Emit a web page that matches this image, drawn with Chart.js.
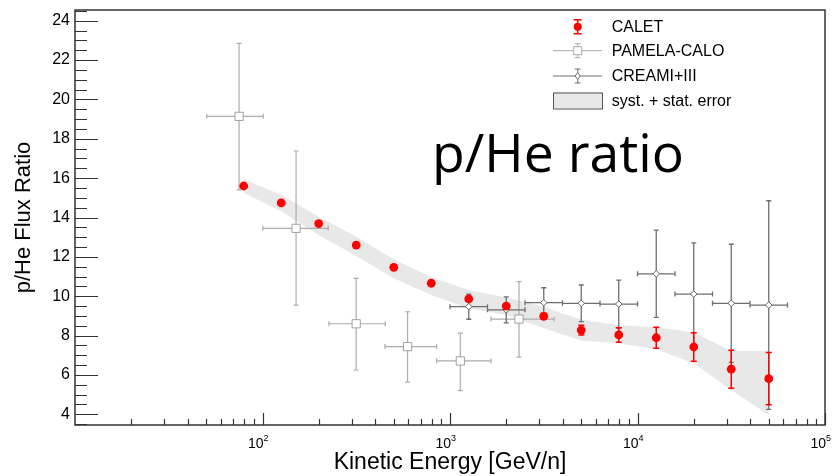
<!DOCTYPE html>
<html>
<head>
<meta charset="utf-8">
<script src="https://cdn.jsdelivr.net/npm/chart.js@4.4.1/dist/chart.umd.min.js"></script>
<style>
  html, body { margin: 0; padding: 0; background: #fff; }
  #wrap { width: 838px; height: 476px; }
</style>
</head>
<body>
<div id="wrap"><canvas id="chart" width="838" height="476"></canvas></div>
<script>
// CALET points + total (syst. + stat.) band
const caletE = [79.4, 125.9, 199.5, 316.2, 501.2, 794.3, 1259, 1995, 3162, 5012, 7943, 12589, 19953, 31623, 50119];
const caletRatio = [15.6, 14.74, 13.69, 12.6, 11.47, 10.66, 9.86, 9.5, 8.98, 8.28, 8.03, 7.89, 7.42, 6.29, 5.81];
const caletStat = [0.05, 0.05, 0.05, 0.06, 0.06, 0.07, 0.09, 0.12, 0.15, 0.25, 0.37, 0.53, 0.72, 0.97, 1.33];
const bandHigh = [15.95, 15.15, 14.04, 13.02, 11.88, 10.97, 10.32, 9.93, 9.47, 8.8, 8.52, 8.42, 8.15, 7.22, 7.22];
const bandLow = [15.25, 14.32, 13.11, 12.04, 10.91, 10.06, 9.39, 9.05, 8.37, 7.75, 7.61, 7.3, 6.59, 5.24, 3.96];

// PAMELA-CALO
const pamelaE = [75, 151, 316, 594, 1135, 2333];
const pamelaRatio = [19.14, 13.45, 8.6, 7.44, 6.71, 8.84];
const pamelaLo = [15.4, 9.55, 6.25, 5.63, 5.2, 6.9];
const pamelaHi = [22.85, 17.38, 10.91, 9.21, 8.12, 10.74];
const pamelaBinLo = [50.4, 100.3, 226, 450, 849, 1655];
const pamelaBinHi = [100.9, 224, 452, 849, 1655, 3589];

// CREAM I+III
const creamE = [1259, 1995, 3162, 5012, 7943, 12589, 19953, 31623, 50119];
const creamRatio = [9.47, 9.31, 9.67, 9.64, 9.6, 11.14, 10.11, 9.64, 9.55];
const creamErr = [0.64, 0.66, 0.76, 0.93, 1.22, 2.22, 2.6, 3.0, 5.3];
const creamBinLo = [1000, 1585, 2512, 3981, 6310, 10000, 15849, 25119, 39811];
const creamBinHi = [1585, 2512, 3981, 6310, 10000, 15849, 25119, 39811, 63096];

// axes
const yTicks = [4, 6, 8, 10, 12, 14, 16, 18, 20, 22, 24];
const xTicks = [100, 1000, 10000, 100000];
const xTickBase = '10';
const xTickExp = ['2', '3', '4', '5'];
const legendLabels = ['CALET', 'PAMELA-CALO', 'CREAMI+III', 'syst. + stat. error'];
const noteText = 'p/He ratio';

const FONT = '"Liberation Sans", Arial, Helvetica, sans-serif';
const RED = '#ff0000';
const BAND = '#e8e8e8';
const PAM = '#acacac';
const CRM = '#6e6e6e';

function pts(xs, ys) {
  return xs.map((x, i) => ({ x, y: ys[i] }));
}

function drawErrors(chart, ds) {
  const { ctx, scales: { x, y } } = chart;
  const st = ds.errStyle;
  ctx.save();
  ctx.strokeStyle = st.color;
  ctx.lineWidth = st.width;
  ctx.beginPath();
  ds.data.forEach((p, i) => {
    const px = x.getPixelForValue(p.x);
    const py = y.getPixelForValue(p.y);
    if (ds.yLow) {
      const y1 = y.getPixelForValue(ds.yLow[i]);
      const y2 = y.getPixelForValue(ds.yHigh[i]);
      ctx.moveTo(px, y1); ctx.lineTo(px, y2);
      ctx.moveTo(px - st.cap, y1); ctx.lineTo(px + st.cap, y1);
      ctx.moveTo(px - st.cap, y2); ctx.lineTo(px + st.cap, y2);
    }
    if (ds.xLow) {
      const x1 = x.getPixelForValue(ds.xLow[i]);
      const x2 = x.getPixelForValue(ds.xHigh[i]);
      ctx.moveTo(x1, py); ctx.lineTo(x2, py);
      ctx.moveTo(x1, py - st.cap); ctx.lineTo(x1, py + st.cap);
      ctx.moveTo(x2, py - st.cap); ctx.lineTo(x2, py + st.cap);
    }
  });
  ctx.stroke();
  ctx.restore();
}

function drawLegend(ctx) {
  const mx = 577.7, x1 = 553, x2 = 602, tx = 611.7;
  const rows = [26.7, 50.7, 76, 100.5];
  ctx.save();
  ctx.font = '16px ' + FONT;
  ctx.fillStyle = '#000';
  ctx.textBaseline = 'middle';
  ctx.textAlign = 'left';
  legendLabels.forEach((t, i) => ctx.fillText(t, tx, rows[i] + 1));

  // CALET
  let ry = rows[0];
  ctx.strokeStyle = RED; ctx.lineWidth = 1.5;
  ctx.beginPath();
  ctx.moveTo(mx, ry - 7); ctx.lineTo(mx, ry + 7);
  ctx.moveTo(mx - 4, ry - 7); ctx.lineTo(mx + 4, ry - 7);
  ctx.moveTo(mx - 4, ry + 7); ctx.lineTo(mx + 4, ry + 7);
  ctx.stroke();
  ctx.fillStyle = RED;
  ctx.beginPath(); ctx.arc(mx, ry, 4, 0, Math.PI * 2); ctx.fill();

  // PAMELA
  ry = rows[1];
  ctx.strokeStyle = PAM; ctx.lineWidth = 1;
  ctx.beginPath();
  ctx.moveTo(x1, ry); ctx.lineTo(x2, ry);
  ctx.moveTo(mx, ry - 7); ctx.lineTo(mx, ry + 7);
  ctx.moveTo(mx - 3, ry - 7); ctx.lineTo(mx + 3, ry - 7);
  ctx.moveTo(mx - 3, ry + 7); ctx.lineTo(mx + 3, ry + 7);
  ctx.stroke();
  ctx.fillStyle = '#fff';
  ctx.fillRect(mx - 4, ry - 4, 8, 8);
  ctx.strokeRect(mx - 4, ry - 4, 8, 8);

  // CREAM
  ry = rows[2];
  ctx.strokeStyle = CRM; ctx.lineWidth = 1;
  ctx.beginPath();
  ctx.moveTo(x1, ry); ctx.lineTo(x2, ry);
  ctx.moveTo(mx, ry - 7); ctx.lineTo(mx, ry + 7);
  ctx.moveTo(mx - 3, ry - 7); ctx.lineTo(mx + 3, ry - 7);
  ctx.moveTo(mx - 3, ry + 7); ctx.lineTo(mx + 3, ry + 7);
  ctx.stroke();
  ctx.fillStyle = '#fff';
  ctx.beginPath();
  ctx.moveTo(mx, ry - 3.5); ctx.lineTo(mx + 2.5, ry); ctx.lineTo(mx, ry + 3.5); ctx.lineTo(mx - 2.5, ry); ctx.closePath();
  ctx.fill(); ctx.stroke();

  // band box
  ry = rows[3];
  ctx.fillStyle = BAND;
  ctx.fillRect(x1, ry - 8, x2 - x1, 16);
  ctx.strokeStyle = '#555'; ctx.lineWidth = 1;
  ctx.strokeRect(x1 + 0.5, ry - 8 + 0.5, x2 - x1, 16);
  ctx.restore();
}

const extras = {
  id: 'extras',
  beforeDatasetDraw(chart, args) {
    const ds = chart.data.datasets[args.index];
    if (ds.errStyle) drawErrors(chart, ds);
  },
  afterDraw(chart) {
    const { ctx, chartArea: a, scales: { x, y } } = chart;
    ctx.save();
    ctx.strokeStyle = '#333';
    ctx.lineWidth = 1.5;
    ctx.strokeRect(a.left, a.top, a.right - a.left, a.bottom - a.top);

    // y ticks (major every 2, minor every 0.5), drawn inward
    ctx.lineWidth = 1.2;
    ctx.beginPath();
    for (let v = 3.5; v <= 24.5; v += 0.5) {
      const py = Math.round(y.getPixelForValue(v)) + 0.5;
      const len = yTicks.includes(v) ? 23 : 12;
      ctx.moveTo(a.left, py); ctx.lineTo(a.left + len, py);
    }
    // x ticks (decades + 2..9)
    for (let d = 10; d < 100000; d *= 10) {
      for (let m = 1; m <= 10; m++) {
        const v = d * m;
        if (v <= 10) continue;
        const px = Math.round(x.getPixelForValue(v)) + 0.5;
        const len = m === 10 ? 12 : 6;
        ctx.moveTo(px, a.bottom); ctx.lineTo(px, a.bottom - len);
      }
    }
    ctx.stroke();

    // x tick labels 10^n
    ctx.fillStyle = '#000';
    ctx.textBaseline = 'middle';
    xTicks.forEach((v, i) => {
      const px = x.getPixelForValue(v);
      ctx.font = '14px ' + FONT;
      ctx.textAlign = 'right';
      ctx.fillText(xTickBase, px + 1, a.bottom + 19);
      ctx.font = '9px ' + FONT;
      ctx.textAlign = 'left';
      ctx.fillText(xTickExp[i], px + 1, a.bottom + 14);
    });

    drawLegend(ctx);

    // big annotation
    ctx.font = '53px "Open Sans", "Noto Sans", sans-serif';
    ctx.textAlign = 'left';
    ctx.textBaseline = 'alphabetic';
    const w = ctx.measureText(noteText).width;
    ctx.translate(432, 172);
    ctx.scale(252 / w, 1);
    ctx.fillText(noteText, 0, 0);
    ctx.restore();
  }
};

new Chart(document.getElementById('chart'), {
  type: 'line',
  data: {
    datasets: [
      {
        label: 'bandLow',
        data: pts(caletE, bandLow),
        borderWidth: 0,
        pointRadius: 0,
        fill: false,
        order: 10
      },
      {
        label: 'syst. + stat. error',
        data: pts(caletE, bandHigh),
        borderWidth: 0,
        pointRadius: 0,
        backgroundColor: BAND,
        fill: '-1',
        order: 9
      },
      {
        label: 'PAMELA-CALO',
        data: pts(pamelaE, pamelaRatio),
        showLine: false,
        pointStyle: 'rect',
        pointRadius: 5.8,
        pointBackgroundColor: '#fff',
        pointBorderColor: '#a0a0a0',
        pointBorderWidth: 1,
        yLow: pamelaLo, yHigh: pamelaHi,
        xLow: pamelaBinLo, xHigh: pamelaBinHi,
        errStyle: { color: PAM, width: 1.2, cap: 2.5 },
        order: 3
      },
      {
        label: 'CREAMI+III',
        data: pts(creamE, creamRatio),
        showLine: false,
        pointStyle: 'rectRot',
        pointRadius: 3.3,
        pointBackgroundColor: '#fff',
        pointBorderColor: '#666',
        pointBorderWidth: 1,
        yLow: creamRatio.map((v, i) => v - creamErr[i]),
        yHigh: creamRatio.map((v, i) => v + creamErr[i]),
        xLow: creamBinLo, xHigh: creamBinHi,
        errStyle: { color: CRM, width: 1.3, cap: 2.5 },
        order: 2
      },
      {
        label: 'CALET',
        data: pts(caletE, caletRatio),
        showLine: false,
        pointStyle: 'circle',
        pointRadius: 4.4,
        pointBackgroundColor: RED,
        pointBorderColor: RED,
        pointBorderWidth: 0,
        yLow: caletRatio.map((v, i) => v - caletStat[i]),
        yHigh: caletRatio.map((v, i) => v + caletStat[i]),
        errStyle: { color: RED, width: 1.5, cap: 3 },
        order: 1
      }
    ]
  },
  options: {
    responsive: false,
    animation: false,
    events: [],
    layout: { padding: { top: 10, right: 13, left: 0, bottom: 0 } },
    plugins: { legend: { display: false }, tooltip: { enabled: false } },
    elements: { line: { tension: 0 } },
    scales: {
      x: {
        type: 'logarithmic',
        min: 10,
        max: 100000,
        grid: { display: false, drawTicks: false },
        border: { display: false },
        ticks: { display: false },
        title: {
          display: true,
          text: 'Kinetic Energy [GeV/n]',
          color: '#000',
          font: { family: FONT, size: 23 },
          padding: { top: 0, bottom: 0 }
        },
        afterFit(s) { s.height = 51; s.paddingLeft = 0; s.paddingRight = 0; }
      },
      y: {
        type: 'linear',
        min: 3.456,
        max: 24.544,
        grid: { display: false, drawTicks: false },
        border: { display: false },
        afterBuildTicks(s) { s.ticks = yTicks.map(v => ({ value: v })); },
        ticks: {
          color: '#000',
          padding: 5,
          font: { family: FONT, size: 16 },
          autoSkip: false
        },
        title: {
          display: true,
          text: 'p/He Flux Ratio',
          color: '#000',
          font: { family: FONT, size: 22 },
          padding: { top: 11, bottom: 0 }
        },
        afterFit(s) { s.width = 75; s.paddingTop = 0; s.paddingBottom = 0; }
      }
    }
  },
  plugins: [extras]
});
</script>
</body>
</html>
